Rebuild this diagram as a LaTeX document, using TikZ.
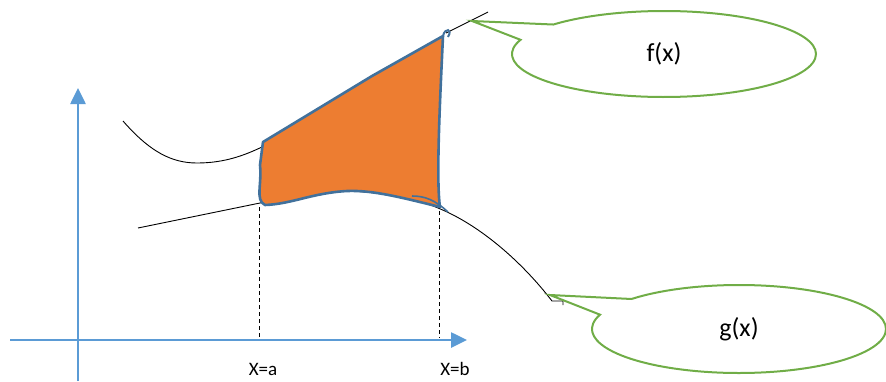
\documentclass[tikz,border=0pt]{standalone}
\usepackage{fontspec}
\setmainfont{Carlito}
\usepackage{tikz}
\usetikzlibrary{arrows.meta,shapes.callouts,positioning,calc}
\definecolor{axisblue}{HTML}{5B9BD5}
\definecolor{rimblue}{HTML}{41719C}
\definecolor{areaorange}{HTML}{ED7D31}
\definecolor{calloutgreen}{HTML}{70AD47}

\begin{document}
\begin{tikzpicture}[x=1pt,y=-1pt,
  axis/.style={axisblue, line width=2.6pt, -{Triangle[length=16pt,width=15pt]}},
  curve/.style={black, line width=0.9pt},
  bubble/.style={ellipse callout, draw=calloutgreen, line width=2pt, inner sep=0pt,
    minimum width=304pt, minimum height=86pt, callout pointer arc=24, font=\fontsize{26}{30}\selectfont},
  tick/.style={font=\fontsize{19}{22}\selectfont}]
\useasboundingbox (0,0) rectangle (886,381);
% axes
\coordinate (xstart) at (10,340);
\coordinate (xend) at (467,340);
\coordinate (ybot) at (78,381);
\coordinate (ytop) at (78,88);
\draw[axis] (xstart) -- (xend);
\draw[axis] (ybot) -- (ytop);
% f(x) and g(x)
\draw[curve] (123,121) .. controls (150,152) and (172,163) .. (197,163)
  .. controls (225,163) and (245,155) .. (262,147);
\draw[curve] (446,33) -- (488,12);
\draw[curve] (138,228) -- (260,203)
  .. controls (300,195) and (330,189) .. (350,191)
  .. controls (390,193) and (420,200) .. (438,208)
  .. controls (480,225) and (522,262) .. (552,301) -- (563,301) -- (563,305);
% area between the curves
\draw[rimblue, line width=2.6pt, fill=areaorange, line join=round]
  (263,142) -- (372,76) -- (443,36)
  .. controls (440,100) and (436,180) .. (440,207)
  .. controls (400,197) and (372,190) .. (347,191)
  .. controls (312,193) and (292,204) .. (265,205)
  .. controls (255,200) and (262,185) .. (260,165) -- cycle;
\draw[rimblue, line width=2pt] (443,36) .. controls (445,27) and (453,29) .. (448,37);
\draw[rimblue, line width=1.6pt] (412,196) .. controls (425,196) and (435,200) .. (448,212);
% limits
\node[tick] (xa) at (263,369) {X=a};
\node[tick] (xb) at (455,369) {X=b};
\draw[dashed, dash pattern=on 4pt off 3pt, line width=1pt] (259,207) -- (259,338);
\draw[dashed, dash pattern=on 4pt off 3pt, line width=1pt] (439,211) -- (439,338);
% callouts
\coordinate (ftip) at (472,21);
\coordinate (gtip) at (550,295);
\node[bubble, callout absolute pointer=(ftip)] (fx) at (664,54) {f(x)};
\node[bubble, minimum width=294pt, minimum height=88pt, callout absolute pointer=(gtip)] (gx) at (739,329) {g(x)};
\end{tikzpicture}
\end{document}
